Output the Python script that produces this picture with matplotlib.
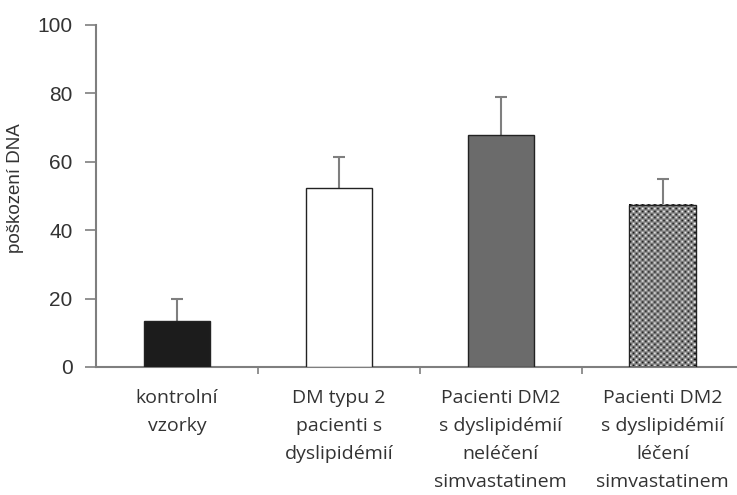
import matplotlib
matplotlib.use("Agg")
import matplotlib.pyplot as plt
import numpy as np

categories = [
    "kontrolní\nvzorky",
    "DM typu 2\npacienti s\ndyslipidémií",
    "Pacienti DM2\ns dyslipidémií\nneléčení\nsimvastatinem",
    "Pacienti DM2\ns dyslipidémií\nléčení\nsimvastatinem",
]
values = [13.5, 52.2, 67.8, 47.4]
errors = [6.4, 9.2, 11.2, 7.6]
yticks = [0, 20, 40, 60, 80, 100]
ylabel = "poškození DNA"

face_colors = ["#1c1c1c", "#ffffff", "#6b6b6b", "none"]
edge_color = "#222222"
axis_gray = "#7f7f7f"
text_color = "#333333"

fig = plt.figure(figsize=(7.37, 4.95), dpi=100)
ax = fig.add_axes([0.1303, 0.2586, 0.8697, 0.6909])

x = list(range(len(values)))
bars = ax.bar(x, values, width=0.41, color=face_colors, edgecolor=edge_color,
              linewidth=1.0, zorder=3)

eb = ax.errorbar(x, values, yerr=[[0] * len(errors), errors], fmt="none",
                 ecolor=axis_gray, elinewidth=1.5, capsize=4.5, capthick=1.5,
                 zorder=1)
# only the upper caps are shown
eb[1][0].set_visible(False)

ax.set_xlim(-0.5, 3.46)
ax.set_ylim(0, 100)
ax.set_yticks(yticks)
ax.set_yticklabels([str(t) for t in yticks], fontfamily="Liberation Sans",
                   fontsize=15, color=text_color)

ax.set_xticks([0.5, 1.5, 2.5])
ax.set_xticklabels([])
ax.tick_params(axis="x", direction="out", length=5, width=1.2, color=axis_gray)
ax.tick_params(axis="y", direction="out", length=8, width=1.2, color=axis_gray, pad=9)

for xi, lab in zip(x, categories):
    ax.annotate(lab, xy=(xi, 0), xycoords=("data", "axes fraction"),
                xytext=(0, -22), textcoords="offset pixels",
                ha="center", va="top", fontfamily="Open Sans", fontsize=14,
                color=text_color, linespacing=1.72)

for side in ("top", "right"):
    ax.spines[side].set_visible(False)
for side in ("left", "bottom"):
    ax.spines[side].set_color(axis_gray)
    ax.spines[side].set_linewidth(1.5)

ax.set_ylabel(ylabel, fontfamily="Liberation Sans", fontsize=13.5, color=text_color)
ax.yaxis.set_label_coords(-0.112, 0.523)

# checkerboard fill for the treated group, clipped to its bar
fig.canvas.draw()
last = bars[-1]
bb = last.get_window_extent()
cell_px = 3
ncols = max(2, int(round(bb.width / cell_px)))
nrows = max(2, int(round(bb.height / cell_px)))
ii, jj = np.indices((nrows, ncols))
checker = ((ii + jj) % 2).astype(float)
x0 = last.get_x()
ax.imshow(checker, cmap="gray", vmin=-0.05, vmax=1.0,
          extent=(x0, x0 + last.get_width(), 0, last.get_height()),
          aspect="auto", interpolation="bilinear", zorder=2, clip_path=last,
          clip_on=True)
ax.set_xlim(-0.5, 3.46)
ax.set_ylim(0, 100)

fig.savefig("out.png", dpi=100)
